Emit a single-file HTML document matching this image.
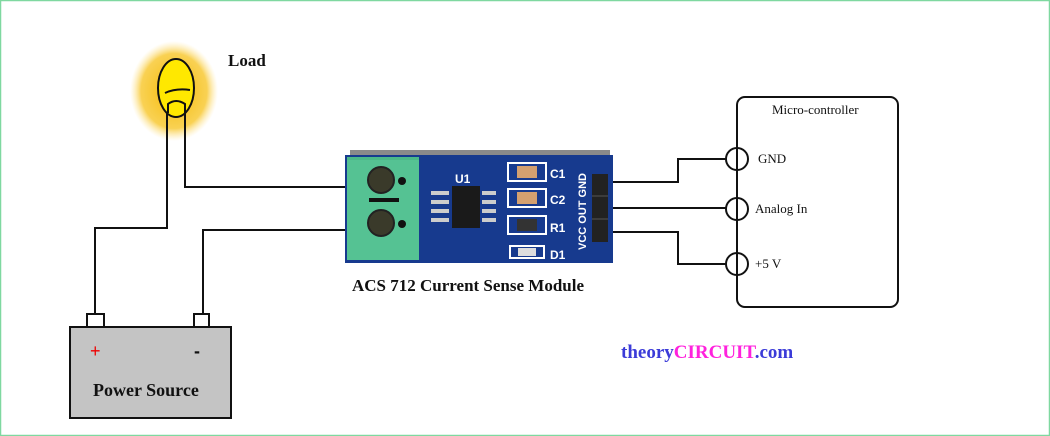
<!DOCTYPE html>
<html><head><meta charset="utf-8"><style>
html,body{margin:0;padding:0;background:#fff}
svg{display:block}
</style></head><body>
<svg width="1050" height="436" viewBox="0 0 1050 436" xmlns="http://www.w3.org/2000/svg">
<defs>
<radialGradient id="glow" cx="50%" cy="50%" r="50%">
<stop offset="0" stop-color="#f5b800" stop-opacity="1"/>
<stop offset="0.75" stop-color="#f7c21a" stop-opacity="0.75"/>
<stop offset="1" stop-color="#ffe080" stop-opacity="0"/>
</radialGradient>
</defs>
<rect x="0.5" y="0.5" width="1049" height="435" fill="#fff" stroke="#7fd8a0" stroke-width="1.5"/>
<ellipse cx="174" cy="91" rx="44" ry="50" fill="url(#glow)"/>
<g stroke="#111" stroke-width="2" fill="none">
<path d="M167 112 V228 H95 V315"/>
<path d="M185 112 V187 H355"/>
<path d="M355 230 H203 V315"/>
<path d="M600 182 H678 V159 H726"/>
<path d="M600 208 H726"/>
<path d="M600 232 H678 V264 H726"/>
</g>
<ellipse cx="176" cy="88" rx="18" ry="29" fill="#ffe800" stroke="#111" stroke-width="2"/>
<path d="M165 93 Q176 88 190 90" stroke="#111" stroke-width="2" fill="none"/>
<path d="M168 113 V104 Q176 98 185 104 V113" stroke="#111" stroke-width="2" fill="none"/>
<text x="228" y="66" font-family="Liberation Serif,serif" font-weight="bold" font-size="17" fill="#111">Load</text>
<rect x="350" y="150" width="260" height="8" fill="#8a8a8a"/>
<rect x="345" y="155" width="268" height="108" fill="#173a8e"/>
<rect x="347" y="157" width="72" height="103" fill="#4cb888"/>
<rect x="347" y="160" width="72" height="100" fill="#55c293"/>
<rect x="369" y="198" width="30" height="4" fill="#111"/>
<circle cx="381" cy="180" r="13" fill="#3a3a2a" stroke="#222" stroke-width="2"/>
<circle cx="381" cy="223" r="13" fill="#3a3a2a" stroke="#222" stroke-width="2"/>
<circle cx="402" cy="181" r="4" fill="#111"/>
<circle cx="402" cy="224" r="4" fill="#111"/>
<text x="455" y="183" font-family="Liberation Sans,sans-serif" font-weight="bold" font-size="12" fill="#fff">U1</text>
<rect x="452" y="186" width="28" height="42" fill="#1a1a1a"/>
<g fill="#ccc"><rect x="431" y="191" width="18" height="4"/><rect x="431" y="200" width="18" height="4"/><rect x="431" y="209" width="18" height="4"/><rect x="431" y="218" width="18" height="4"/>
<rect x="482" y="191" width="14" height="4"/><rect x="482" y="200" width="14" height="4"/><rect x="482" y="209" width="14" height="4"/><rect x="482" y="218" width="14" height="4"/></g>
<g fill="none" stroke="#fff" stroke-width="2">
<rect x="508" y="163" width="38" height="18"/><rect x="508" y="189" width="38" height="18"/><rect x="508" y="216" width="38" height="18"/><rect x="510" y="246" width="34" height="12"/></g>
<rect x="517" y="166" width="20" height="12" fill="#d4a070"/>
<rect x="517" y="192" width="20" height="12" fill="#d4a070"/>
<rect x="517" y="219" width="20" height="12" fill="#333"/>
<rect x="518" y="248" width="18" height="8" fill="#ddd"/>
<g font-family="Liberation Sans,sans-serif" font-weight="bold" font-size="12" fill="#fff">
<text x="550" y="178">C1</text><text x="550" y="204">C2</text><text x="550" y="232">R1</text><text x="550" y="259">D1</text></g>
<text transform="translate(586,250) rotate(-90)" font-family="Liberation Sans,sans-serif" font-weight="bold" font-size="11" fill="#fff">VCC OUT GND</text>
<rect x="592" y="174" width="16" height="68" fill="#222"/>
<g stroke="#555" stroke-width="1"><line x1="592" y1="196" x2="608" y2="196"/><line x1="592" y1="219" x2="608" y2="219"/></g>
<text x="352" y="291" font-family="Liberation Serif,serif" font-weight="bold" font-size="17" fill="#111">ACS 712 Current Sense Module</text>
<rect x="737" y="97" width="161" height="210" rx="8" fill="#fff" stroke="#111" stroke-width="2"/>
<g fill="#fff" stroke="#111" stroke-width="2">
<circle cx="737" cy="159" r="11"/><circle cx="737" cy="209" r="11"/><circle cx="737" cy="264" r="11"/></g>
<line x1="737" y1="148" x2="737" y2="275" stroke="#111" stroke-width="2"/>
<g font-family="Liberation Serif,serif" font-size="13" fill="#111">
<text x="772" y="114">Micro-controller</text>
<text x="758" y="163">GND</text>
<text x="755" y="213">Analog In</text>
<text x="755" y="268">+5 V</text></g>
<g stroke="#111" stroke-width="2">
<rect x="87" y="314" width="17" height="13" fill="#fff"/>
<rect x="194" y="314" width="15" height="13" fill="#fff"/>
<rect x="70" y="327" width="161" height="91" fill="#c4c4c4"/></g>
<text x="90" y="357" font-family="Liberation Sans,sans-serif" font-size="18" fill="#e00">+</text>
<text x="194" y="357" font-family="Liberation Sans,sans-serif" font-weight="bold" font-size="18" fill="#111">-</text>
<text x="93" y="396" font-family="Liberation Serif,serif" font-weight="bold" font-size="18" fill="#111">Power Source</text>
<text x="621" y="358" font-family="Liberation Serif,serif" font-weight="bold" font-size="19"><tspan fill="#3b3bd8">theory</tspan><tspan fill="#ff22dd">CIRCUIT</tspan><tspan fill="#3b3bd8">.com</tspan></text>
</svg>
</body></html>
